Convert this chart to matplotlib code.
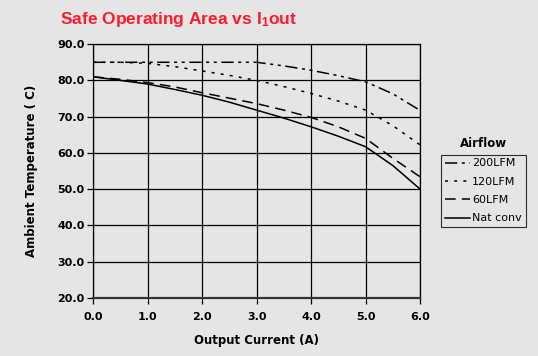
import matplotlib
matplotlib.use('Agg')
import matplotlib.pyplot as plt

current = [0.0, 0.5, 1.0, 1.5, 2.0, 2.5, 3.0, 3.5, 4.0, 4.5, 5.0, 5.5, 6.0]
lfm200 = [85.0, 85.0, 85.0, 85.0, 85.0, 85.0, 85.0, 84.0, 82.8, 81.3, 79.6, 76.3, 71.7]
lfm120 = [85.0, 85.0, 84.7, 83.8, 82.6, 81.4, 80.0, 78.3, 76.4, 74.3, 71.8, 67.5, 62.2]
lfm60 = [81.0, 80.3, 79.4, 78.2, 76.6, 75.1, 73.6, 71.8, 69.8, 67.2, 64.0, 58.5, 53.4]
natconv = [81.0, 80.0, 79.0, 77.5, 75.9, 74.0, 71.8, 69.6, 67.2, 64.6, 61.7, 56.5, 50.0]
series_labels = ['200LFM', '120LFM', '60LFM', 'Nat conv']

bg = '#e5e5e5'
fig = plt.figure(figsize=(5.38, 3.56), dpi=100, facecolor=bg)
ax = fig.add_axes([0.173, 0.163, 0.608, 0.713], facecolor=bg)

ax.plot(current, lfm200, color='black', lw=1.1, dashes=(8, 3, 2, 3, 2, 3), label=series_labels[0])
ax.plot(current, lfm120, color='black', lw=1.1, dashes=(2, 4), label=series_labels[1])
ax.plot(current, lfm60, color='black', lw=1.1, dashes=(7, 4), label=series_labels[2])
ax.plot(current, natconv, color='black', lw=1.1, label=series_labels[3])

ax.set_xlim(0, 6)
ax.set_ylim(20, 90)
ax.set_xticks([0, 1, 2, 3, 4, 5, 6])
ax.set_yticks([20, 30, 40, 50, 60, 70, 80, 90])
ax.set_xticklabels([f'{v:.1f}' for v in ax.get_xticks()], fontsize=8, fontweight='bold')
ax.set_yticklabels([f'{v:.1f}' for v in ax.get_yticks()], fontsize=8, fontweight='bold')
ax.grid(True, color='black', lw=0.9)
ax.tick_params(axis='x', length=4, width=0.9, direction='out', pad=6)
ax.tick_params(axis='y', length=4, width=0.9, direction='out', pad=2)
for s in ax.spines.values():
    s.set_linewidth(0.9)
ax.spines['bottom'].set_linewidth(1.6)
ax.spines['bottom'].set_color('#333333')

ax.set_xlabel('Output Current (A)', fontsize=8.5, fontweight='bold', labelpad=9)
ax.set_ylabel('Ambient Temperature ( C)', fontsize=8.5, fontweight='bold', labelpad=14)

fig.text(0.112, 0.945, r'Safe Operating Area vs I$\mathregular{_1}$out', color='#ff1a2e',
         fontsize=12.5, fontweight='bold', family='Liberation Sans', va='center')

fig.text(0.898, 0.597, 'Airflow', fontsize=8.5, fontweight='bold', ha='center', va='center')
leg = ax.legend(loc='upper left', bbox_to_anchor=(0.819, 0.566), bbox_transform=fig.transFigure,
                fontsize=8, frameon=True, fancybox=False, handlelength=2.3, handletextpad=0.2,
                borderpad=0.35, labelspacing=0.75, borderaxespad=0)
leg.get_frame().set_edgecolor('black')
leg.get_frame().set_facecolor(bg)
leg.get_frame().set_linewidth(0.8)

plt.savefig('out.png', dpi=100, facecolor=bg)
plt.close()
